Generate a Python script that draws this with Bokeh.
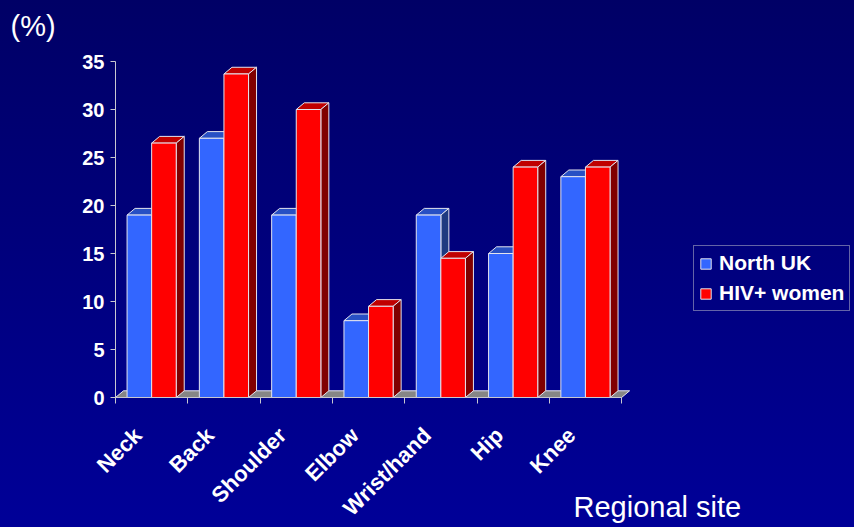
from bokeh.plotting import figure
from bokeh.models import Range1d, FixedTicker, Legend, LegendItem, Label
from bokeh.embed import file_html
from bokeh.resources import INLINE
from math import pi

# ---- data -------------------------------------------------------------
sites = ["Neck", "Back", "Shoulder", "Elbow", "Wrist/hand", "Hip", "Knee"]
north_uk = [19, 27, 19, 8, 19, 15, 23]
hiv_women = [26.5, 33.7, 30, 9.5, 14.5, 24, 24]
series_names = ["North UK", "HIV+ women"]
y_ticks = [0, 5, 10, 15, 20, 25, 30, 35]

# ---- geometry ---------------------------------------------------------
W, H = 854, 527
ORIGIN_X, ORIGIN_Y = 115, 397   # canvas pixel of the (0, 0) corner
PX_X = 72.3   # pixels per category slot
PX_Y = 9.6    # pixels per percentage point
DX = 8 / PX_X      # 3-D depth, horizontal
DY = 6.7 / PX_Y    # 3-D depth, vertical
BAR_W = 0.34
OFFSETS = [0.16, 0.50]
LABEL_SHIFT = 0.19  # category names sit a little left of the slot centre

FONT = "Liberation Sans"
EDGE = "#e4e4ee"
AXIS = "#c8c8d0"


def px_x(sx):
    return (sx - ORIGIN_X) / PX_X


def px_y(sy):
    return (ORIGIN_Y - sy) / PX_Y


p = figure(width=W, height=H,
           x_range=Range1d(px_x(0), px_x(W)), y_range=Range1d(px_y(H), px_y(0)),
           min_border=0, output_backend="svg", toolbar_location=None)
p.styles = {"background": "linear-gradient(to bottom, #000066 0%, #00007e 50%, #000098 100%)"}
p.background_fill_alpha = 0
p.border_fill_alpha = 0
p.outline_line_color = None
p.grid.visible = False

n = len(sites)

# floor of the 3-D plot
p.patch([0, n, n + DX, DX], [0, 0, DY, DY], fill_color="#868686",
        line_color=EDGE, line_width=1)


def draw_series(vals, offset, front, top, side):
    lefts = [i + offset for i in range(n)]
    rights = [l + BAR_W for l in lefts]
    top_xs = [[l, r, r + DX, l + DX] for l, r in zip(lefts, rights)]
    top_ys = [[v, v, v + DY, v + DY] for v in vals]
    side_xs = [[r, r + DX, r + DX, r] for r in rights]
    side_ys = [[0, DY, v + DY, v] for v in vals]
    p.patches(top_xs, top_ys, fill_color=top, line_color=EDGE, line_width=1)
    p.patches(side_xs, side_ys, fill_color=side, line_color=EDGE, line_width=1)
    return p.quad(left=lefts, right=rights, bottom=0, top=vals,
                  fill_color=front, line_color=EDGE, line_width=1)


r_blue = draw_series(north_uk, OFFSETS[0], "#3366ff", "#2850c4", "#1e3a80")
r_red = draw_series(hiv_women, OFFSETS[1], "#ff0000", "#c00000", "#800000")

# ---- axes (pinned to the data origin) ---------------------------------
yax = p.yaxis[0]
yax.fixed_location = 0
yax.ticker = FixedTicker(ticks=y_ticks)
yax.bounds = (0, 35)
yax.axis_line_color = AXIS
yax.major_tick_line_color = AXIS
yax.major_tick_in = 0
yax.major_tick_out = 5
yax.minor_tick_line_color = None
yax.major_label_text_color = "white"
yax.major_label_text_font = FONT
yax.major_label_text_font_style = "bold"
yax.major_label_text_font_size = "20px"
yax.major_label_standoff = 6

xax = p.xaxis[0]
xax.fixed_location = 0
label_pos = [i + 0.5 - LABEL_SHIFT for i in range(n)]
xax.ticker = FixedTicker(ticks=label_pos, minor_ticks=list(range(n + 1)))
xax.major_label_overrides = {c: s for c, s in zip(label_pos, sites)}
xax.bounds = (0, n)
xax.axis_line_color = AXIS
xax.major_tick_line_color = None
xax.major_tick_in = 0
xax.major_tick_out = 0
xax.minor_tick_line_color = AXIS
xax.minor_tick_in = 0
xax.minor_tick_out = 6
xax.major_label_orientation = pi / 4
xax.major_label_text_color = "white"
xax.major_label_text_font = FONT
xax.major_label_text_font_style = "bold"
xax.major_label_text_font_size = "22px"
xax.major_label_standoff = 28

# ---- texts ------------------------------------------------------------
p.add_layout(Label(x=px_x(10), y=px_y(9), text="(%)",
                   text_font=FONT, text_font_size="29px", text_color="white",
                   text_baseline="top", text_align="left"))
p.add_layout(Label(x=px_x(573), y=px_y(490), text="Regional site",
                   text_font=FONT, text_font_size="29px", text_color="white",
                   text_baseline="top", text_align="left"))

# ---- legend -----------------------------------------------------------
legend = Legend(items=[LegendItem(label=series_names[0], renderers=[r_blue]),
                       LegendItem(label=series_names[1], renderers=[r_red])],
                location=(693, H - 311), orientation="vertical",
                glyph_width=13, glyph_height=13, label_standoff=7,
                padding=5, spacing=6, margin=0, label_height=24,
                label_text_font=FONT, label_text_font_style="bold",
                label_text_font_size="21px", label_text_color="white",
                border_line_color=AXIS, border_line_width=1,
                background_fill_alpha=0)
p.add_layout(legend)

open("out.html", "w").write(file_html(p, INLINE))
